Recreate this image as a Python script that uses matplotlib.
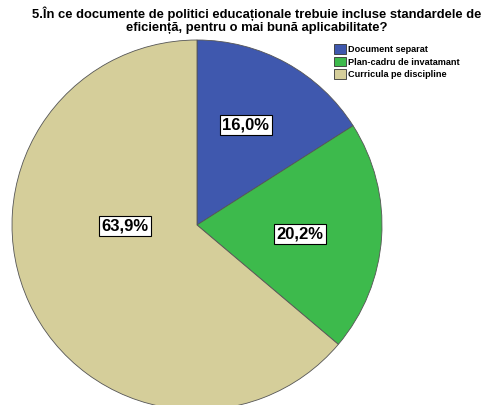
import numpy as np
import matplotlib.pyplot as plt
from matplotlib.patches import Patch

categories = ['Document separat', 'Plan-cadru de invatamant', 'Curricula pe discipline']
shares = [16.0, 20.2, 63.9]
pct_labels = ['16,0%', '20,2%', '63,9%']
colors = ['#3F58AE', '#3DBA4C', '#D5CE9A']
title = '5.În ce documente de politici educaționale trebuie incluse standardele de\neficiență, pentru o mai bună aplicabilitate?'

# label placement (radius fraction, angle in degrees) as in the original
label_place = [(0.6, 64), (0.56, -5), (0.39, 181)]

plt.rcParams['font.family'] = ['Liberation Sans', 'DejaVu Sans']

fig = plt.figure(figsize=(4.92, 4.05), dpi=100)
ax = fig.add_axes([12 / 492, -5 / 405, 370 / 492, 370 / 405])

wedges, texts = ax.pie(
    shares, colors=colors, startangle=90, counterclock=False,
    wedgeprops=dict(edgecolor='#555555', linewidth=0.6))
for lab, (r, a) in zip(pct_labels, label_place):
    ax.text(r * np.cos(np.radians(a)), r * np.sin(np.radians(a)), lab,
            ha='center', va='center', fontsize=12, fontweight='bold',
            bbox=dict(facecolor='white', edgecolor='black', linewidth=0.8, boxstyle='square,pad=0.15'))
ax.set_xlim(-1, 1)
ax.set_ylim(-1, 1)
ax.set_aspect('equal')

fig.text(0.522, 0.983, title, ha='center', va='top', fontsize=9.4, fontweight='bold', linespacing=1.08)

handles = [Patch(facecolor=c, edgecolor='#333333', linewidth=0.6) for c in colors]
fig.legend(handles, categories, loc='upper left', bbox_to_anchor=(328 / 492, 1 - 38 / 405),
           frameon=False, prop=dict(weight='bold', size=6.6),
           handlelength=1.25, handleheight=1.25, handletextpad=0.25, labelspacing=0.25, borderpad=0.2)

fig.savefig('out.png', dpi=100)
